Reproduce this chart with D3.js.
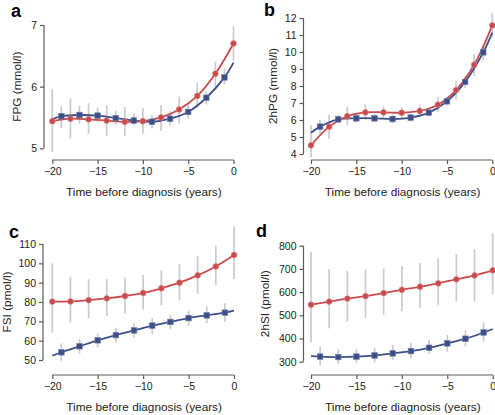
<!DOCTYPE html>
<html><head><meta charset="utf-8">
<script src="https://cdn.jsdelivr.net/npm/d3@7"></script>
<style>
body{margin:0;background:#fff;}
svg{display:block;font-family:"Liberation Sans",Arial,Helvetica,sans-serif;}
</style></head>
<body>
<svg id="chart" width="495" height="415"></svg>
<script>
// ---------- data ----------
const redYears  = [-20,-18,-16,-14,-12,-10,-8,-6,-4,-2,0];
const blueYears = [-19,-17,-15,-13,-11,-9,-7,-5,-3,-1];
const xTicks = [-20,-15,-10,-5,0];

// panel a: FPG
const fpgRed  = [5.44,5.48,5.47,5.45,5.43,5.44,5.50,5.63,5.85,6.21,6.70];
const fpgRedErr = [[4.94,5.96],[5.16,5.81],[5.23,5.73],[5.20,5.70],[5.20,5.67],[5.23,5.65],[5.28,5.70],[5.40,5.84],[5.66,6.06],[5.99,6.41],[6.42,6.98]];
const fpgBlue = [5.52,5.54,5.53,5.49,5.45,5.43,5.48,5.59,5.82,6.15];
const fpgBlueErr = [[5.33,5.69],[5.40,5.69],[5.43,5.66],[5.38,5.61],[5.38,5.56],[5.32,5.54],[5.37,5.60],[5.48,5.71],[5.71,5.92],[6.04,6.29]];
const fpgBlueEnds = [5.47,6.39];
const fpgTicks = [5,6,7];

// panel b: 2hPG
const hpgRed  = [4.51,5.61,6.22,6.45,6.45,6.43,6.53,6.90,7.76,9.25,11.57];
const hpgRedErr = [[3.8,5.7],[4.9,6.3],[5.7,6.8],[6.0,6.95],[6.1,6.8],[6.1,6.75],[6.2,6.9],[6.45,7.35],[7.2,8.3],[8.6,9.9],[10.9,12.3]];
const hpgBlue = [5.61,6.04,6.10,6.10,6.06,6.14,6.43,7.10,8.24,9.98];
const hpgBlueErr = [[5.2,6.0],[5.8,6.3],[5.85,6.35],[5.85,6.35],[5.8,6.3],[5.9,6.35],[6.2,6.65],[6.85,7.35],[7.9,8.6],[9.5,10.4]];
const hpgBlueEnds = [5.25,11.14];
const hpgTicks = [4,5,6,7,8,9,10,11,12];

// panel c: FSI
const fsiRed  = [80.2,80.3,81.0,81.9,83.1,84.7,87.1,90.0,93.8,98.4,104.3];
const fsiRedErr = [[64.1,100],[69.3,93.1],[71.6,91.7],[72.8,91.9],[74.1,92.6],[76.0,94.0],[78.4,96.4],[80.9,99.5],[84.1,103.8],[88.8,109.0],[91.9,119]];
const fsiBlue = [54.0,57.1,60.2,62.9,65.3,67.8,69.7,71.7,73.1,74.5];
const fsiBlueErr = [[49.5,58.6],[53.4,60.9],[56.6,63.6],[59.1,66.7],[61.6,69.0],[63.4,71.7],[65.9,73.3],[67.6,75.5],[69.0,77.6],[69.8,79.3]];
const fsiBlueEnds = [52.2,75.5];
const fsiTicks = [50,60,70,80,90,100,110];

// panel d: 2hSI
const hsiRed  = [546,559,572,583,596,610,623,638,655,672,694];
const hsiRedErr = [[383,774],[444,699],[472,691],[487,697],[501,702],[518,712],[533,725],[544,745],[559,764],[559,786],[590,855]];
const hsiBlue = [322,320,322,327,336,346,360,379,399,426];
const hsiBlueErr = [[283,366],[289,355],[293,355],[297,360],[307,372],[314,382],[334,395],[343,415],[365,436],[386,470]];
const hsiBlueEnds = [324,441];
const hsiTicks = [300,400,500,600,700,800];

// ---------- styling / layout ----------
const RED = "#c94a4c", BLUE = "#3e4f87", ERR = "#cbcbcb", AXIS = "#5a5a5a";
const svg = d3.select("#chart");

const panels = [
  {letter:"a", lx:11, ly:17, yTitle:"FPG (mmol/l)", yTitleX:17,
   x0:52.3, x1:233.5, yTop:25, yBot:148.3, dom:[5,7], axisX:44, axisY:160,
   red:fpgRed, redErr:fpgRedErr, blue:fpgBlue, blueErr:fpgBlueErr, ends:fpgBlueEnds, ticks:fpgTicks},
  {letter:"b", lx:264, ly:16, yTitle:"2hPG (mmol/l)", yTitleX:273,
   x0:311, x1:492.3, yTop:18, yBot:154, dom:[4,12], axisX:303.5, axisY:160,
   red:hpgRed, redErr:hpgRedErr, blue:hpgBlue, blueErr:hpgBlueErr, ends:hpgBlueEnds, ticks:hpgTicks},
  {letter:"c", lx:9, ly:238, yTitle:"FSI (pmol/l)", yTitleX:7,
   x0:52.3, x1:234, yTop:244, yBot:360, dom:[50,110], axisX:43, axisY:375,
   red:fsiRed, redErr:fsiRedErr, blue:fsiBlue, blueErr:fsiBlueErr, ends:fsiBlueEnds, ticks:fsiTicks},
  {letter:"d", lx:256, ly:237, yTitle:"2hSI (pmol/l)", yTitleX:265,
   x0:311, x1:492.7, yTop:245.7, yBot:361.7, dom:[300,800], axisX:303.5, axisY:375,
   red:hsiRed, redErr:hsiRedErr, blue:hsiBlue, blueErr:hsiBlueErr, ends:hsiBlueEnds, ticks:hsiTicks}
];

const fmtTick = d => d < 0 ? "\u2212" + Math.abs(d) : String(d);

panels.forEach(p => {
  const x = d3.scaleLinear().domain([-20,0]).range([p.x0,p.x1]);
  const y = d3.scaleLinear().domain(p.dom).range([p.yBot,p.yTop]);
  const g = svg.append("g");

  // panel letter
  g.append("text").attr("x",p.lx).attr("y",p.ly).attr("font-size",18).attr("font-weight","bold")
    .attr("fill","#000").text(p.letter);

  // y axis
  const ya = g.append("g").attr("transform",`translate(${p.axisX},0)`)
    .call(d3.axisLeft(y).tickValues(p.ticks).tickSize(4).tickPadding(3).tickFormat(d3.format("d")));
  ya.select(".domain").attr("stroke",AXIS).attr("stroke-width",1.2).attr("d",`M0,${p.yBot}V${p.yTop}`);
  ya.selectAll(".tick line").attr("stroke",AXIS).attr("stroke-width",1.2);
  ya.selectAll(".tick text").attr("font-size",10.5).attr("fill","#222")
    .attr("font-family","Liberation Sans, Arial, sans-serif");

  // x axis
  const xa = g.append("g").attr("transform",`translate(0,${p.axisY})`)
    .call(d3.axisBottom(x).tickValues(xTicks).tickSize(4).tickPadding(4).tickFormat(fmtTick));
  xa.select(".domain").attr("stroke",AXIS).attr("stroke-width",1.2).attr("d",`M${p.x0},0H${p.x1}`);
  xa.selectAll(".tick line").attr("stroke",AXIS).attr("stroke-width",1.2);
  xa.selectAll(".tick text").attr("font-size",10.5).attr("fill","#222")
    .attr("font-family","Liberation Sans, Arial, sans-serif");

  // titles
  g.append("text").attr("x",(p.x0+p.x1)/2 + 1).attr("y",p.axisY + 36)
    .attr("text-anchor","middle").attr("font-size",11.8).attr("fill","#222")
    .text("Time before diagnosis (years)");
  g.append("text").attr("transform",`translate(${p.yTitleX},${(p.yTop+p.yBot)/2}) rotate(-90)`)
    .attr("text-anchor","middle").attr("dominant-baseline","central").attr("font-size",11.8).attr("fill","#222")
    .text(p.yTitle);

  // error bars
  const errs = redYears.map((t,i)=>({t, e:p.redErr[i]})).concat(blueYears.map((t,i)=>({t, e:p.blueErr[i]})));
  g.append("g").selectAll("line").data(errs).join("line")
    .attr("x1",d=>x(d.t)).attr("x2",d=>x(d.t))
    .attr("y1",d=>y(d.e[0])).attr("y2",d=>y(d.e[1]))
    .attr("stroke",ERR).attr("stroke-width",1.7);

  // fitted curves
  const line = d3.line().x(d=>x(d[0])).y(d=>y(d[1])).curve(d3.curveCatmullRom.alpha(0.5));
  const bluePts = [[-20,p.ends[0]]].concat(blueYears.map((t,i)=>[t,p.blue[i]])).concat([[0,p.ends[1]]]);
  const redPts = redYears.map((t,i)=>[t,p.red[i]]);
  g.append("path").attr("d",line(bluePts)).attr("fill","none").attr("stroke",BLUE).attr("stroke-width",1.8);
  g.append("path").attr("d",line(redPts)).attr("fill","none").attr("stroke",RED).attr("stroke-width",1.8);

  // markers
  g.append("g").selectAll("rect").data(blueYears.map((t,i)=>[t,p.blue[i]])).join("rect")
    .attr("x",d=>x(d[0])-2.8).attr("y",d=>y(d[1])-2.8).attr("width",5.6).attr("height",5.6)
    .attr("fill",BLUE).attr("stroke","#6f7fab").attr("stroke-width",0.6);
  g.append("g").selectAll("circle").data(redPts).join("circle")
    .attr("cx",d=>x(d[0])).attr("cy",d=>y(d[1])).attr("r",2.9)
    .attr("fill",RED).attr("stroke","#dd8485").attr("stroke-width",0.6);
});
</script>
</body></html>
